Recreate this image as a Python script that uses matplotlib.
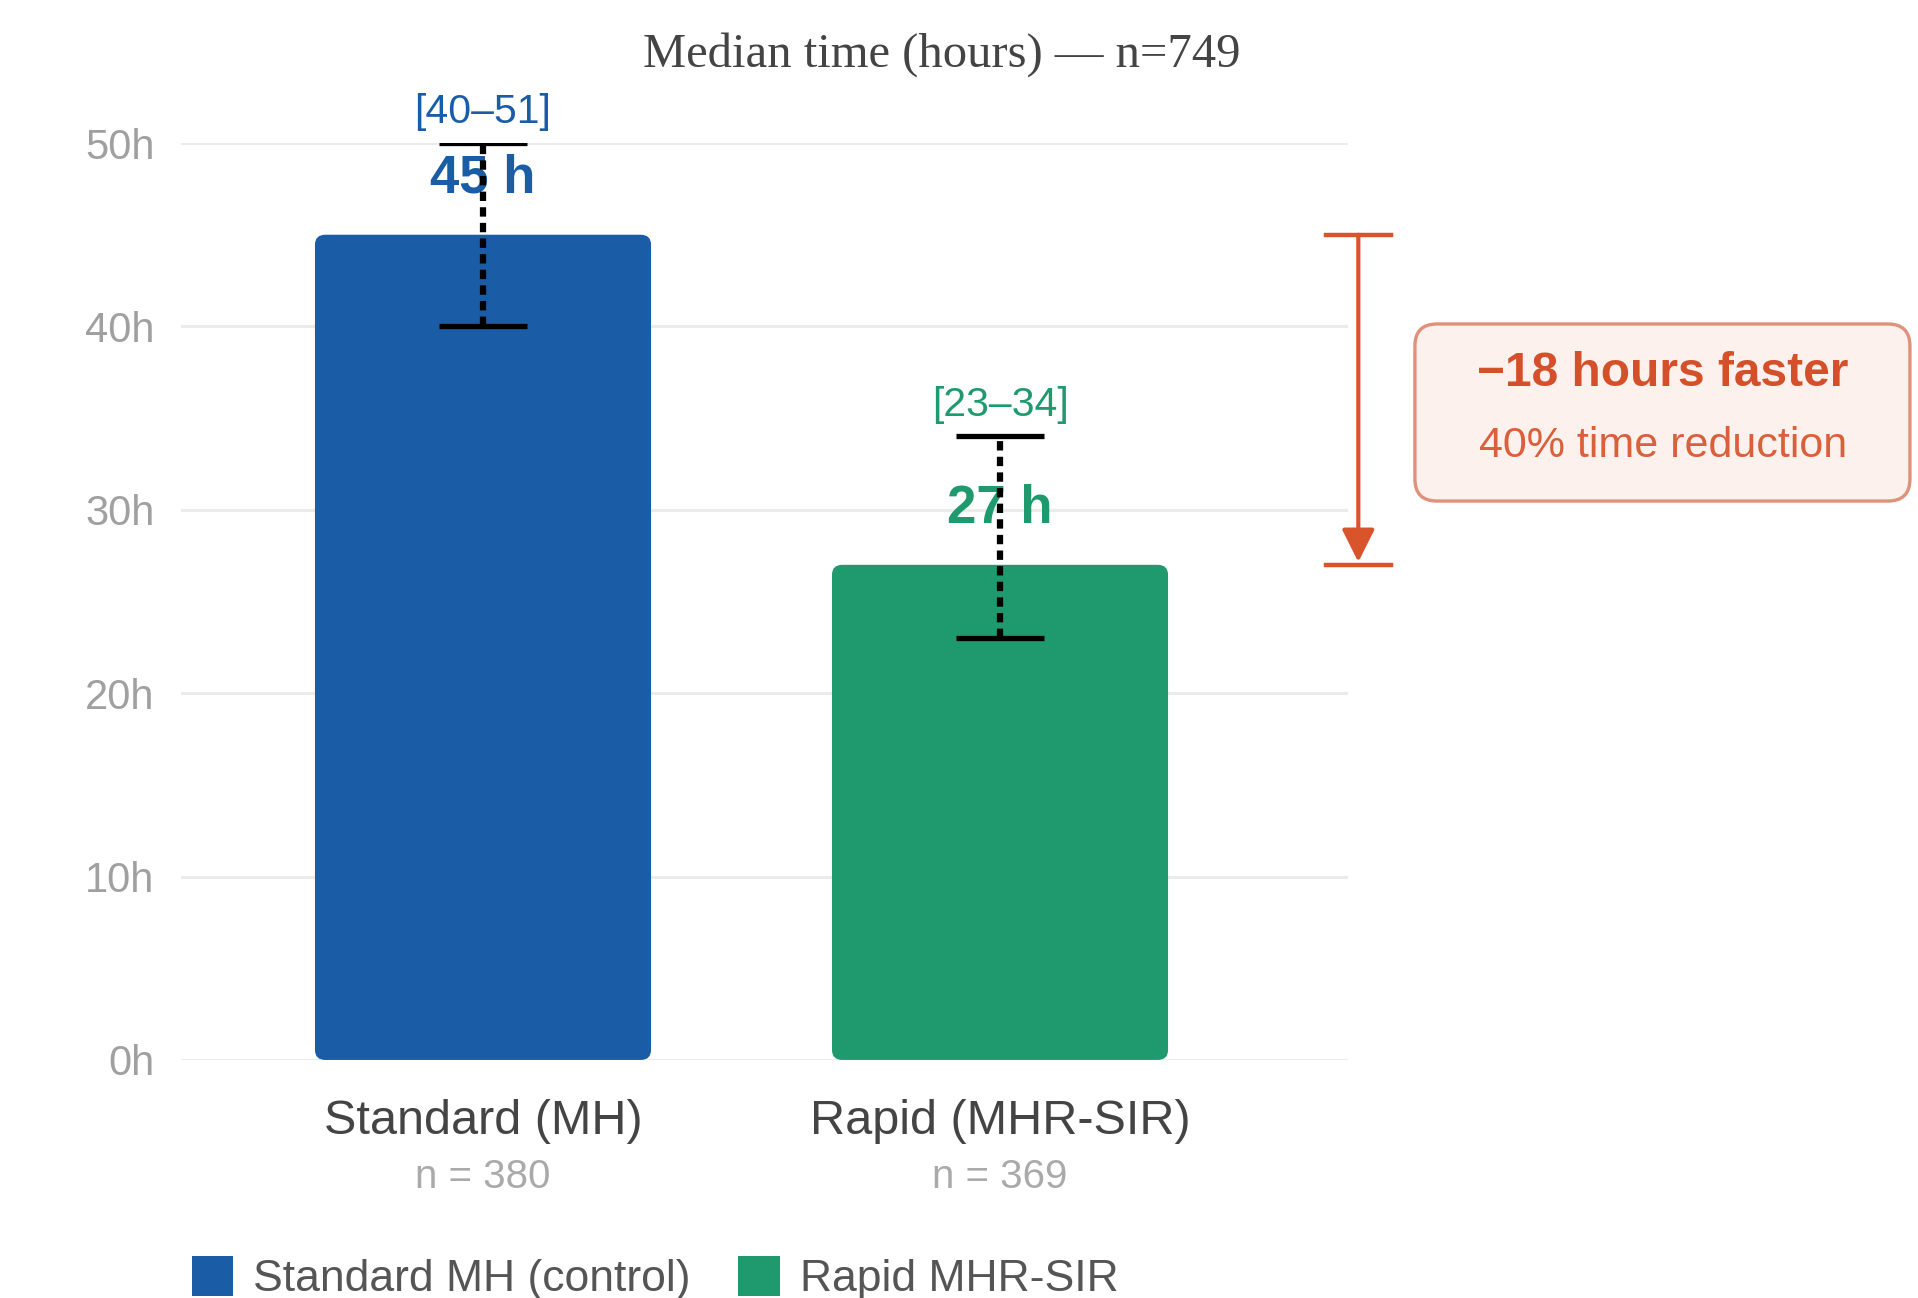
import numpy as np
import matplotlib.pyplot as plt
from matplotlib.patches import FancyBboxPatch

plt.rcParams['font.family'] = ['Liberation Sans', 'DejaVu Sans']

groups = ['Standard (MH)', 'Rapid (MHR-SIR)']
group_n = [380, 369]
median_h = [45, 27]
ci_low = [40, 23]
ci_high = [51, 34]
legend_labels = ['Standard MH (control)', 'Rapid MHR-SIR']
colors = ['#1a5ca6', '#1f9a6e']
yticks = [0, 10, 20, 30, 40, 50]
subtitle = 'Median time (hours) — n=749'
diff_text = '\u221218 hours faster'
pct_text = '40% time reduction'

orange = '#d9542b'

fig = plt.figure(figsize=(19.18, 12.98), dpi=100)
ax = fig.add_axes([0.0944, 0.1834, 0.6084, 0.7064])

x = np.arange(len(groups))
bars = ax.bar(x, median_h, width=0.65, color=colors)

# swap plain bars for rounded ones
handles = []
for b, lab in zip(bars, legend_labels):
    p = FancyBboxPatch((b.get_x(), b.get_y()), b.get_width(), b.get_height(),
                       boxstyle='round,pad=0,rounding_size=0.02', mutation_aspect=27,
                       fc=b.get_facecolor(), ec='none', label=lab, zorder=2)
    ax.add_patch(p)
    handles.append(p)
    b.remove()

ax.set_xlim(-0.584, 1.673)
ax.set_ylim(0, 50)
ax.set_yticks(yticks)
ax.set_yticklabels([f'{v}h' for v in yticks], fontsize=30, color='#a0a0a0')
ax.tick_params(axis='y', length=0, pad=19)
ax.set_xticks([])
ax.grid(axis='y', color='#ebebeb', lw=2.2)
ax.set_axisbelow(True)
for s in ax.spines.values():
    s.set_visible(False)

# CI whiskers, clipped at the axis top
top = np.minimum(ci_high, ax.get_ylim()[1])
eb = ax.errorbar(x, median_h, yerr=[np.array(median_h) - ci_low, top - np.array(median_h)],
                 fmt='none', ecolor='black', elinewidth=4.5, capsize=31.7, capthick=3.8, zorder=4)
eb[2][0].set_linestyle((0, (1.5, 1.0)))

for i in range(len(groups)):
    ax.text(x[i], median_h[i] + 1.7, f'{median_h[i]} h', ha='center', va='bottom',
            fontsize=38, fontweight='bold', color=colors[i], zorder=3)
    ax.text(x[i], top[i] + 1.7, f'[{ci_low[i]}\u2013{ci_high[i]}]', ha='center', va='center',
            fontsize=29.5, color=colors[i])
    ax.annotate(groups[i], xy=(x[i], 0), xycoords=('data', 'axes fraction'),
                xytext=(0, -44), textcoords='offset points', ha='center', va='center',
                fontsize=35, color='#444444')
    ax.annotate(f'n = {group_n[i]}', xy=(x[i], 0), xycoords=('data', 'axes fraction'),
                xytext=(0, -84), textcoords='offset points', ha='center', va='center',
                fontsize=29, color='#aaaaaa')

# difference bracket
bx = 1.693
ax.annotate('', xy=(bx, median_h[1]), xytext=(bx, median_h[0]),
            arrowprops=dict(arrowstyle='-|>,head_length=2.0,head_width=1.0', color=orange,
                            lw=3, shrinkA=0, shrinkB=2), annotation_clip=False)
for v in median_h:
    ax.plot([bx - 0.063, bx + 0.063], [v, v], color=orange, lw=3.2, clip_on=False)

box = FancyBboxPatch((0.7377, 0.614), 0.2581, 0.1364, transform=fig.transFigure,
                     boxstyle='round,pad=0,rounding_size=0.0115', mutation_aspect=1918 / 1298,
                     fc='#fdf1ed', ec='#e0917a', lw=2.4)
fig.add_artist(box)
fig.text(0.867, 0.7126, diff_text, ha='center', va='center', fontsize=34.5,
         fontweight='bold', color='#d4502a')
fig.text(0.867, 0.6564, pct_text, ha='center', va='center', fontsize=31, color='#d9603a')

fig.text(0.491, 0.9576, subtitle, ha='center', va='center', fontsize=35,
         family='Liberation Serif', color='#444444')

fig.legend(handles=handles, loc='center left', bbox_to_anchor=(0.1, 0.0154), ncol=2,
           frameon=False, fontsize=32, handlelength=0.93, handleheight=1.0,
           handletextpad=0.45, columnspacing=1.07, borderpad=0, borderaxespad=0,
           labelcolor='#555555')

fig.savefig('out.png', dpi=100)
